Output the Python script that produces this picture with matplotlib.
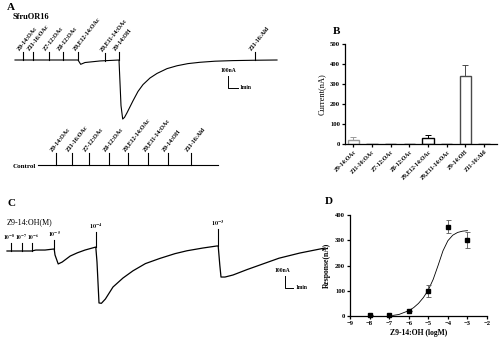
import matplotlib
matplotlib.use("Agg")
import matplotlib.pyplot as plt

plt.rcParams['font.family'] = ['Liberation Serif', 'DejaVu Serif']
plt.rcParams['mathtext.fontset'] = 'stix'

W, H = 500, 344

# --- A: SfruOR16 response trace (time in min, current in nA)
a_time = [0, 6.3, 6.57, 7.0, 8.5, 10.4, 10.6, 10.77, 10.95, 11.2, 11.5, 11.8, 12.3, 12.8,
          13.5, 14.2, 15.2, 16.2, 17.3, 18.5, 20.0, 21.8, 24.0, 26.2]
a_curr = [0, 0, -36, -21, -8, 0, -380, -492, -478, -440, -390, -340, -262, -205,
          -150, -112, -72, -48, -30, -19, -10, -5, -2, 0]
a_stim_time = [0.77, 1.8, 3.4, 4.8, 6.3, 9.0, 10.4, 24.0]
odorants = ["Z9-14:OAc", "Z11-16:OAc", "Z7-12:OAc", "Z8-12:OAc",
            "Z9,E12-14:OAc", "Z9,E11-14:OAc", "Z9-14:OH", "Z11-16:Ald"]

# control oocyte, no response
ctrl_time = [0, 18]
ctrl_curr = [0, 0]
ctrl_stim_time = [1.8, 3.4, 5.1, 7.1, 9.0, 11.0, 13.0, 15.3]

# --- B: mean current per odorant
b_mean = [22, 0, 0, 0, 31, 0, 340, 0]
b_err = [12, 0, 0, 0, 12, 0, 57, 0]

# --- C: Z9-14:OH dose series trace
c_time = [0, 3.1, 3.6, 4.75, 5.9, 6.0, 6.4, 6.9, 7.9, 8.8, 9.75, 11.1, 11.25, 11.5, 11.8,
          12.3, 13.25, 14.5, 15.75, 17.3, 19.1, 21.0, 22.5, 24.5, 26.25, 26.4, 26.6, 26.75,
          27.25, 28.25, 30.0, 31.6, 34.0, 36.6, 39.75]
c_curr = [0, 0, 8, 8, 17, -33, -108, -92, -42, -15, 8, 33, -92, -433, -436,
          -400, -300, -225, -165, -105, -62, -22, 2, 25, 42, 42, -117, -217,
          -217, -200, -155, -117, -60, -17, 25]
c_stim_time = [0.45, 1.9, 3.1, 5.9, 11.1, 26.4]
c_stim_top = [67, 67, 67, 75, 125, 140]
c_stim_label = [r"$\mathbf{10^{-8}}$", r"$\mathbf{10^{-7}}$", r"$\mathbf{10^{-6}}$",
                r"$\mathbf{10^{-5}}$", r"$\mathbf{10^{-4}}$", r"$\mathbf{10^{-3}}$"]
c_label_shift = [-0.2, -0.12, 0.15, 0, 0, 0]
c_label_size = [4.0, 4.0, 4.0, 4.2, 4.5, 4.5]

# --- D: dose response
d_logc = [-8, -7, -6, -5, -4, -3]
d_resp = [5, 5, 18, 99, 353, 301]
d_err = [0, 0, 0, 25, 26, 30]
fit_logc = [-7, -6.5, -6, -5.75, -5.5, -5.25, -5, -4.75, -4.5, -4.25, -4, -3.75, -3.5, -3.25, -3]
fit_resp = [0, 6, 21, 33, 50, 73, 103, 145, 200, 258, 298, 320, 331, 336, 338]

fig = plt.figure(figsize=(W / 100, H / 100), dpi=100)
fig.patch.set_facecolor('white')


def trace_axes(x0, y0, sx, sy):
    # full-figure axes; (x0, y0) is where t=0 / I=0 lands, sx px per min, sy px per nA
    ax = fig.add_axes([0, 0, 1, 1])
    ax.set_xlim(-x0 / sx, (W - x0) / sx)
    ax.set_ylim((y0 - H) / sy, y0 / sy)
    ax.axis('off')
    return ax


def level(times, currs, t):
    for i in range(len(times) - 1):
        if times[i] <= t <= times[i + 1]:
            f = (t - times[i]) / (times[i + 1] - times[i]) if times[i + 1] > times[i] else 0
            return currs[i] + f * (currs[i + 1] - currs[i])
    return currs[-1]


def stim_marks(ax, times, currs, stims, labels, height, fs=4.4):
    for t, lab in zip(stims, labels):
        y = level(times, currs, t)
        ax.plot([t, t], [y, y + height], color='black', lw=0.8)
        ax.text(t - 0.2, y + height + 4, lab, rotation=52, rotation_mode='anchor',
                ha='left', va='bottom', fontsize=fs, fontweight='bold')


# panel A
axA = trace_axes(15, 60, 10, 0.12)
axA.plot(a_time, a_curr, color='black', lw=0.8)
stim_marks(axA, a_time, a_curr, a_stim_time, odorants, 67)
axA.plot([21.3, 21.3, 22.3], [-133, -233, -233], color='black', lw=0.7)
axA.text(21.3, -110, "100nA", ha='center', va='bottom', fontsize=4.0, fontweight='bold')
axA.text(22.4, -233, "1min", ha='left', va='center', fontsize=4.0, fontweight='bold')

axCt = trace_axes(38, 165, 10, 0.12)
axCt.plot(ctrl_time, ctrl_curr, color='black', lw=0.8)
stim_marks(axCt, ctrl_time, ctrl_curr, ctrl_stim_time, odorants, 100)

# panel C
axC = trace_axes(7, 251, 8, 0.12)
axC.plot(c_time, c_curr, color='black', lw=0.9)
for t, top, lab, dx, fs in zip(c_stim_time, c_stim_top, c_stim_label, c_label_shift, c_label_size):
    y = level(c_time, c_curr, t)
    axC.plot([t, t], [y, y + top], color='black', lw=0.8)
    axC.text(t + dx, y + top + 10, lab, ha='center', va='bottom', fontsize=fs)
axC.plot([34.75, 34.75, 35.75], [-208, -308, -308], color='black', lw=0.7)
axC.text(34.4, -185, "100nA", ha='center', va='bottom', fontsize=4.0, fontweight='bold')
axC.text(36.0, -308, "1min", ha='left', va='center', fontsize=4.0, fontweight='bold')

# panel letters and labels
fig.text(7 / W, 1 - 8 / H, "A", fontsize=8, fontweight='bold', va='center')
fig.text(13 / W, 1 - 17 / H, "SfruOR16", fontsize=6, fontweight='bold', va='center')
fig.text(13 / W, 1 - 166 / H, "Control", fontsize=5, fontweight='bold', va='center')
fig.text(333 / W, 1 - 32 / H, "B", fontsize=8, fontweight='bold', va='center')
fig.text(7 / W, 1 - 203 / H, "C", fontsize=8, fontweight='bold', va='center')
fig.text(7 / W, 1 - 222 / H, "Z9-14:OH(M)", fontsize=5.8, va='center')
fig.text(325 / W, 1 - 201 / H, "D", fontsize=8, fontweight='bold', va='center')


def style_axis(ax):
    for s in ['top', 'right']:
        ax.spines[s].set_visible(False)
    for s in ['left', 'bottom']:
        ax.spines[s].set_linewidth(0.9)
    ax.tick_params(length=2.5, width=0.9, labelsize=4.8, pad=1)
    for lab in ax.get_xticklabels() + ax.get_yticklabels():
        lab.set_fontweight('bold')


# panel B bars
axB = fig.add_axes([345 / W, 1 - 144 / H, 152 / W, 100 / H])
xs = list(range(len(odorants)))
edges = ['#9a9a9a', 'black', 'black', 'black', 'black', 'black', '#4a4a4a', 'black']
axB.bar(xs, b_mean, width=0.6, color='white', edgecolor=edges, linewidth=1.0)
for x, m, e, c in zip(xs, b_mean, b_err, edges):
    if e > 0:
        axB.errorbar(x, m, yerr=[[0], [e]], color=c, lw=0.7, capsize=2, capthick=0.7)
axB.set_xlim(-0.45, 7.7)
axB.set_ylim(0, 500)
axB.set_yticks([0, 100, 200, 300, 400, 500])
axB.set_xticks(xs)
axB.set_xticklabels(odorants, rotation=45, ha='right', rotation_mode='anchor')
axB.set_ylabel("Current(nA)", fontsize=6, labelpad=3)
style_axis(axB)
axB.tick_params(axis='x', labelsize=4.2)

# panel D dose response
axD = fig.add_axes([350 / W, 1 - 316 / H, 137 / W, 101 / H])
axD.plot(fit_logc, fit_resp, color='black', lw=0.6)
axD.errorbar(d_logc, d_resp, yerr=d_err, fmt='s', color='black', ms=3, lw=0.6,
             ecolor='#555555', capsize=1.8, capthick=0.6, clip_on=False)
axD.set_xlim(-9, -2)
axD.set_ylim(0, 400)
axD.set_xticks(range(-9, -1))
axD.set_yticks([0, 100, 200, 300, 400])
axD.set_xlabel("Z9-14:OH (logM)", fontsize=5.5, labelpad=2)
axD.set_ylabel("Response(nA)", fontsize=5.5, labelpad=3)
style_axis(axD)
axD.xaxis.label.set_fontweight('bold')
axD.yaxis.label.set_fontweight('bold')

fig.savefig("out.png", dpi=100, facecolor='white')
